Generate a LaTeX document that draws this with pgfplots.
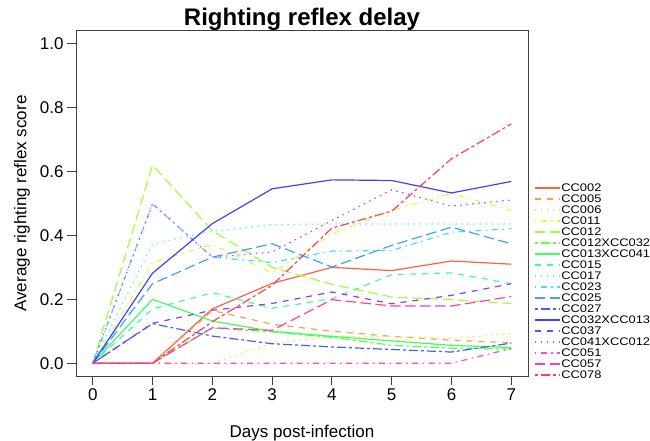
\documentclass[border=0pt]{standalone}
\usepackage{pgfplots}
\pgfplotsset{compat=1.18}
\usepackage{fontspec}
\setmainfont{Liberation Sans}
\newfontfamily\legfont[FakeStretch=1.17]{Liberation Sans}
\definecolor{c1}{hsb}{0.0278,0.75,1}
\definecolor{c2}{hsb}{0.0833,0.75,1}
\definecolor{c3}{hsb}{0.1389,0.75,1}
\definecolor{c4}{hsb}{0.1944,0.75,1}
\definecolor{c5}{hsb}{0.2500,0.75,1}
\definecolor{c6}{hsb}{0.3056,0.75,1}
\definecolor{c7}{hsb}{0.3611,0.75,1}
\definecolor{c8}{hsb}{0.4167,0.75,1}
\definecolor{c9}{hsb}{0.4861,0.75,1}
\definecolor{c10}{hsb}{0.5278,0.75,1}
\definecolor{c11}{hsb}{0.5833,0.75,1}
\definecolor{c12}{hsb}{0.6389,0.75,1}
\definecolor{c13}{hsb}{0.6667,0.75,1}
\definecolor{c14}{hsb}{0.7222,0.75,1}
\definecolor{c15}{hsb}{0.7917,0.75,1}
\definecolor{c16}{hsb}{0.8472,0.75,1}
\definecolor{c17}{hsb}{0.9167,0.75,1}
\definecolor{c18}{hsb}{0.9722,0.75,1}
\tikzset{
  ltsolid/.style={solid},
  ltdashed/.style={dash pattern=on 6pt off 6pt},
  ltdotted/.style={dash pattern=on 1.5pt off 4.5pt},
  ltdotdash/.style={dash pattern=on 1.5pt off 4.5pt on 6pt off 4.5pt},
  ltlongdash/.style={dash pattern=on 10.5pt off 4.5pt},
  lttwodash/.style={dash pattern=on 3pt off 3pt on 9pt off 3pt},
}
\begin{document}
\begin{tikzpicture}[x=1pt,y=1pt]
\useasboundingbox (0,0) rectangle (650,440);
\begin{axis}[
  at={(76pt,64pt)}, anchor=south west,
  scale only axis, width=452pt, height=345pt,
  xmin=-0.28, xmax=7.28, ymin=-0.04, ymax=1.04,
  xtick={0,1,2,3,4,5,6,7},
  ytick={0,0.2,0.4,0.6,0.8,1.0},
  yticklabel style={/pgf/number format/fixed, /pgf/number format/fixed zerofill, /pgf/number format/precision=1},
  /pgf/number format/assume math mode=true,
  tick align=outside, xtick pos=bottom, ytick pos=left,
  major tick length=9pt,
  axis line style={line width=1pt, black!75},
  every tick/.style={line width=1pt, black!75},
  tick label style={font=\fontsize{17}{20}\selectfont},
  title={Righting reflex delay},
  title style={at={(0.5,1)}, anchor=base, yshift=-1pt, font=\fontsize{24}{26}\selectfont\bfseries},
  xlabel={Days post-infection},
  xlabel style={at={(0.5,0)}, anchor=base, yshift=-61pt, font=\fontsize{17}{20}\selectfont},
  ylabel={Average righting reflex score},
  ylabel style={at={(0,0.5)}, anchor=center, rotate=0, yshift=54pt, font=\fontsize{17}{20}\selectfont},
  legend style={at={(1.013,0.56070)}, anchor=north west, draw=none, fill=none,
    font=\legfont\fontsize{11}{12}\selectfont, inner sep=0pt, row sep=0pt, column sep=0pt,
    nodes={inner sep=0.5pt, text height=8pt, text depth=2pt}},
  legend cell align=left,
  legend image code/.code={\draw[line width=1.8pt,#1] (0pt,0pt) -- (25pt,0pt);},
  every axis plot/.append style={line width=1.2pt},
]
\addplot[c1, ltsolid] coordinates {(0,0) (1,0) (2,0.17) (3,0.25) (4,0.30) (5,0.29) (6,0.32) (7,0.31)};
\addlegendentry{CC002}
\addplot[c2, ltdashed] coordinates {(0,0) (1,0) (2,0.165) (3,0.122) (4,0.10) (5,0.084) (6,0.072) (7,0.064)};
\addlegendentry{CC005}
\addplot[c3, ltdotted] coordinates {(0,0) (1,0) (2,0) (3,0.062) (4,0.085) (5,0.083) (6,0.078) (7,0.093)};
\addlegendentry{CC006}
\addplot[c4, ltdotdash] coordinates {(0,0) (1,0.315) (2,0.372) (3,0.282) (4,0.405) (5,0.478) (6,0.532) (7,0.478)};
\addlegendentry{CC011}
\addplot[c5, ltlongdash] coordinates {(0,0) (1,0.62) (2,0.415) (3,0.30) (4,0.247) (5,0.207) (6,0.199) (7,0.187)};
\addlegendentry{CC012}
\addplot[c6, lttwodash] coordinates {(0,0) (1,0) (2,0.11) (3,0.098) (4,0.081) (5,0.056) (6,0.047) (7,0.044)};
\addlegendentry{CC012XCC032}
\addplot[c7, ltsolid] coordinates {(0,0) (1,0.20) (2,0.132) (3,0.10) (4,0.084) (5,0.07) (6,0.056) (7,0.049)};
\addlegendentry{CC013XCC041}
\addplot[c8, ltdashed] coordinates {(0,0) (1,0.17) (2,0.221) (3,0.172) (4,0.202) (5,0.277) (6,0.283) (7,0.249)};
\addlegendentry{CC015}
\addplot[c9, ltdotted] coordinates {(0,0) (1,0.374) (2,0.413) (3,0.434) (4,0.436) (5,0.436) (6,0.436) (7,0.436)};
\addlegendentry{CC017}
\addplot[c10, ltdotdash] coordinates {(0,0) (1,0.499) (2,0.332) (3,0.315) (4,0.351) (5,0.353) (6,0.41) (7,0.421)};
\addlegendentry{CC023}
\addplot[c11, ltlongdash] coordinates {(0,0) (1,0.249) (2,0.332) (3,0.374) (4,0.301) (5,0.369) (6,0.426) (7,0.374)};
\addlegendentry{CC025}
\addplot[c12, lttwodash] coordinates {(0,0) (1,0.124) (2,0.085) (3,0.061) (4,0.051) (5,0.043) (6,0.035) (7,0.063)};
\addlegendentry{CC027}
\addplot[c13, ltsolid] coordinates {(0,0) (1,0.282) (2,0.437) (3,0.546) (4,0.574) (5,0.572) (6,0.533) (7,0.569)};
\addlegendentry{CC032XCC013}
\addplot[c14, ltdashed] coordinates {(0,0) (1,0.125) (2,0.166) (3,0.187) (4,0.223) (5,0.186) (6,0.2125) (7,0.249)};
\addlegendentry{CC037}
\addplot[c15, ltdotted] coordinates {(0,0) (1,0.499) (2,0.332) (3,0.348) (4,0.447) (5,0.543) (6,0.492) (7,0.511)};
\addlegendentry{CC041XCC012}
\addplot[c16, ltdotdash] coordinates {(0,0) (1,0) (2,0) (3,0) (4,0) (5,0) (6,0) (7,0.046)};
\addlegendentry{CC051}
\addplot[c17, ltlongdash] coordinates {(0,0) (1,0) (2,0.111) (3,0.103) (4,0.199) (5,0.179) (6,0.179) (7,0.209)};
\addlegendentry{CC057}
\addplot[c18, lttwodash] coordinates {(0,0) (1,0) (2,0.13) (3,0.244) (4,0.423) (5,0.476) (6,0.64) (7,0.749)};
\addlegendentry{CC078}
\end{axis}
\end{tikzpicture}
\end{document}
